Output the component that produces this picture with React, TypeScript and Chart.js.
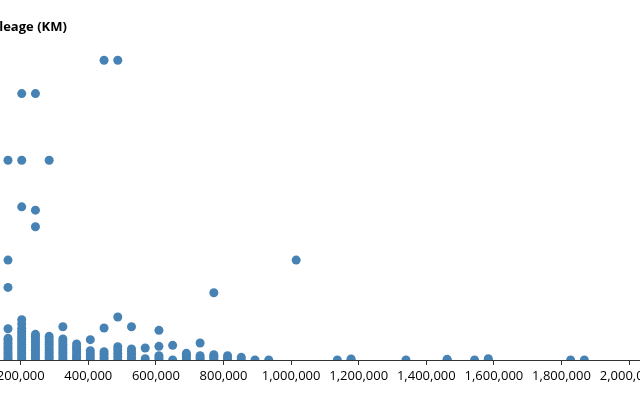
import React, { useEffect, useRef } from 'react';
import { Chart, registerables } from 'chart.js';

Chart.register(...registerables);

const yAxisTitle = 'Mileage (KM)';

const xTickValues = [0, 200000, 400000, 600000, 800000, 1000000, 1200000, 1400000, 1600000, 1800000, 2000000, 2200000, 2400000];

const columnPrices = [
  162400, 203000, 243600, 284200, 324800, 365400, 406000, 446600, 487200, 527800,
  568400, 609000, 649600, 690200, 730800, 771400, 812000, 852600, 893200, 933800,
  1015000, 1136800, 1177400, 1339800, 1461600, 1542800, 1583400, 1827000, 1867600,
];

const columnMileages = [
  [0, 6000, 12000, 20000, 27000, 35000, 42000, 50000, 58000, 65000, 94000, 218000, 300000, 600000],
  [0, 7000, 15000, 22000, 30000, 38000, 46000, 54000, 62000, 70000, 78000, 86000, 95000, 108000, 121000, 460000, 600000, 800000],
  [0, 8000, 16000, 24000, 32000, 40000, 48000, 56000, 64000, 71000, 77000, 400000, 450000, 800000],
  [0, 8000, 15000, 23000, 31000, 39000, 47000, 55000, 63000, 71000, 600000],
  [0, 7000, 15000, 23000, 31000, 39000, 47000, 55000, 63000, 100000],
  [0, 8000, 16000, 24000, 32000, 40000, 48000],
  [0, 9000, 18000, 28000, 61000],
  [0, 8000, 17000, 25000, 96000, 900000],
  [0, 10000, 20000, 30000, 40000, 129000, 900000],
  [0, 8000, 17000, 25000, 33000, 100000],
  [4000, 36000],
  [0, 7000, 13000, 41000, 89000],
  [0, 44000],
  [0, 7000, 14000, 20000],
  [0, 7000, 13000, 51000],
  [0, 6000, 11000, 16000, 202000],
  [0, 6000, 13000],
  [0, 8000],
  [0],
  [0],
  [300000],
  [0],
  [0, 3000],
  [0],
  [0, 2000],
  [0],
  [0, 4000],
  [0],
  [0],
];

export default function App() {
  const ref = useRef<HTMLCanvasElement>(null);

  useEffect(() => {
    if (!ref.current) return;
    const points = columnPrices.flatMap((p, i) => columnMileages[i].map((m) => ({ x: p, y: m })));

    const titlePlugin = {
      id: 'yTitle',
      afterDraw(chart: any) {
        const ctx = chart.ctx;
        ctx.save();
        ctx.font = 'bold 13px "Open Sans", sans-serif';
        ctx.fillStyle = '#000';
        ctx.textBaseline = 'middle';
        ctx.textAlign = 'left';
        ctx.fillText(yAxisTitle, 83, 27);
        ctx.restore();
      },
    };

    const chart = new Chart(ref.current, {
      type: 'scatter',
      data: {
        datasets: [
          {
            data: points,
            backgroundColor: '#4682b4',
            borderWidth: 0,
            pointRadius: 4.5,
            pointHoverRadius: 4.5,
          },
        ],
      },
      options: {
        animation: false,
        responsive: true,
        maintainAspectRatio: false,
        layout: { padding: { left: 53.1, right: 35.7, top: 27, bottom: 0 } },
        plugins: { legend: { display: false }, tooltip: { enabled: false } },
        scales: {
          x: {
            type: 'linear',
            min: 0,
            max: 2400000,
            afterFit: (s: any) => {
              s.height = 40;
            },
            afterBuildTicks: (s: any) => {
              s.ticks = xTickValues.map((v) => ({ value: v }));
            },
            grid: { drawOnChartArea: false, drawTicks: true, tickLength: 5, color: '#333', tickColor: '#333' },
            border: { display: true, color: '#333', width: 1 },
            ticks: {
              color: '#000',
              font: { family: '"Open Sans", sans-serif', size: 13 },
              padding: 3,
              maxRotation: 0,
              autoSkip: false,
              callback: (v: any) => Number(v).toLocaleString('en-US'),
            },
          },
          y: { display: false, min: 0, max: 1000000 },
        },
      },
      plugins: [titlePlugin],
    });
    return () => chart.destroy();
  }, []);

  return (
    <div style={{ position: 'fixed', left: 0, top: 0, width: 640, height: 400, overflow: 'hidden', background: '#fff' }}>
      <div style={{ position: 'absolute', left: -100, top: 0, width: 900, height: 400 }}>
        <canvas ref={ref} />
      </div>
    </div>
  );
}
